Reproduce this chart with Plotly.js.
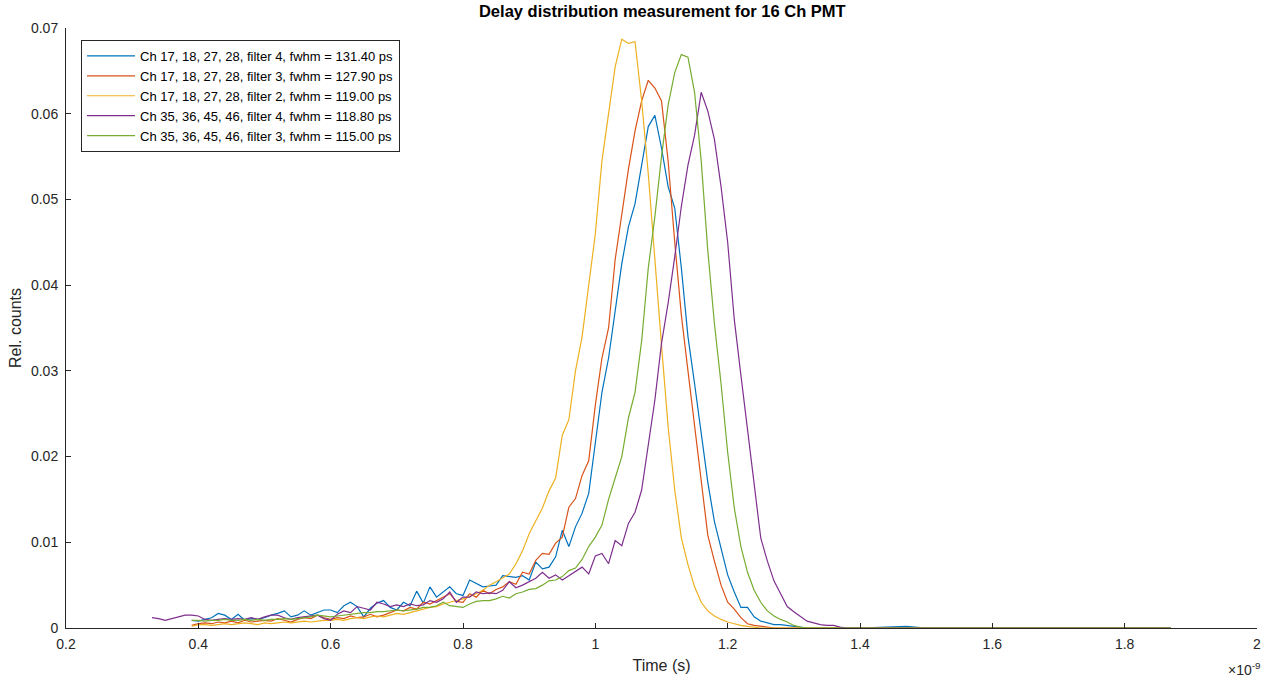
<!DOCTYPE html>
<html>
<head>
<meta charset="utf-8">
<script src="https://cdn.plot.ly/plotly-3.0.1.min.js"></script>
<style>html,body{margin:0;padding:0;background:#fff;}#chart{width:1264px;height:678px;}</style>
</head>
<body>
<div id="chart"></div>
<script>
// Time axis (units of 1e-9 s)
const t = [
 0.33,0.34,0.35,0.36,0.37,0.38,0.39,0.40,0.41,0.42,
 0.43,0.44,0.45,0.46,0.47,0.48,0.49,0.50,0.51,0.52,
 0.53,0.54,0.55,0.56,0.57,0.58,0.59,0.60,0.61,0.62,
 0.63,0.64,0.65,0.66,0.67,0.68,0.69,0.70,0.71,0.72,
 0.73,0.74,0.75,0.76,0.77,0.78,0.79,0.80,0.81,0.82,
 0.83,0.84,0.85,0.86,0.87,0.88,0.89,0.90,0.91,0.92,
 0.93,0.94,0.95,0.96,0.97,0.98,0.99,1.00,1.01,1.02,
 1.03,1.04,1.05,1.06,1.07,1.08,1.09,1.10,1.11,1.12,
 1.13,1.14,1.15,1.16,1.17,1.18,1.19,1.20,1.21,1.22,
 1.23,1.24,1.25,1.26,1.27,1.28,1.29,1.30,1.31,1.32,
 1.33,1.34,1.35,1.36,1.37,1.38,1.39,1.40,1.47,1.50,1.60,1.70,1.80,1.87
];

const ch17_f4 = [
 null,null,null,null,null,null,0.0009,0.0008,0.0010,0.0012,
 0.0017,0.0015,0.0010,0.0016,0.0009,0.0011,0.0010,0.0012,0.0015,0.0017,
 0.0020,0.0013,0.0015,0.0020,0.0015,0.0018,0.0021,0.0021,0.0018,0.0026,
 0.0030,0.0025,0.0013,0.0023,0.0029,0.0032,0.0024,0.0021,0.0030,0.0026,
 0.0043,0.0029,0.0048,0.0036,0.0042,0.0048,0.0040,0.0038,0.0056,0.0052,
 0.0048,0.0049,0.0050,0.0061,0.0060,0.0059,0.0061,0.0056,0.0077,0.0069,
 0.0071,0.0083,0.0114,0.0095,0.0118,0.0134,0.0157,0.0215,0.0275,0.0315,
 0.0370,0.0425,0.0468,0.0495,0.0540,0.0585,0.0598,0.0560,0.0515,0.0490,
 0.0420,0.0340,0.0285,0.0225,0.0170,0.0124,0.0093,0.0062,0.0042,0.0024,
 0.0024,0.0013,0.0008,0.0006,0.0004,0.0004,0.0003,0.0002,0.0001,0,
 0,0,0,0,0,0,0,0,0.0002,0,0,0,0,0
];

const ch17_f3 = [
 null,null,null,null,null,null,0.0003,0.0005,0.0006,0.0005,
 0.0007,0.0006,0.0008,0.0006,0.0009,0.0007,0.0008,0.0009,0.0008,0.0011,
 0.0009,0.0007,0.0010,0.0012,0.0011,0.0015,0.0012,0.0010,0.0012,0.0011,
 0.0014,0.0012,0.0013,0.0016,0.0013,0.0015,0.0018,0.0021,0.0020,0.0024,
 0.0022,0.0030,0.0028,0.0032,0.0036,0.0040,0.0031,0.0030,0.0040,0.0036,
 0.0044,0.0040,0.0045,0.0048,0.0054,0.0051,0.0065,0.0063,0.0079,0.0087,
 0.0086,0.0099,0.0106,0.0141,0.0151,0.0178,0.0195,0.0260,0.0315,0.0350,
 0.0430,0.0485,0.0535,0.0580,0.0615,0.0639,0.0630,0.0615,0.0545,0.0450,
 0.0365,0.0300,0.0235,0.0170,0.0108,0.0078,0.0050,0.0030,0.0022,0.0012,
 0.0005,0.0003,0.0002,0.0001,0,0,0,0,0,0,
 0,0,0,0,0,0,0,0,0,0,0,0,0,0
];

const ch17_f2 = [
 null,null,null,null,null,null,0.0002,0.0004,0.0004,0.0003,
 0.0004,0.0005,0.0004,0.0005,0.0006,0.0005,0.0004,0.0006,0.0005,0.0006,
 0.0007,0.0006,0.0007,0.0008,0.0007,0.0008,0.0009,0.0009,0.0010,0.0009,
 0.0011,0.0012,0.0011,0.0013,0.0014,0.0013,0.0015,0.0017,0.0016,0.0018,
 0.0020,0.0022,0.0024,0.0025,0.0028,0.0030,0.0032,0.0034,0.0037,0.0040,
 0.0044,0.0050,0.0054,0.0059,0.0063,0.0075,0.0090,0.0110,0.0125,0.0140,
 0.0160,0.0175,0.0225,0.0243,0.0300,0.0340,0.0400,0.0460,0.0545,0.0600,
 0.0655,0.0687,0.0682,0.0684,0.0615,0.0530,0.0426,0.0330,0.0235,0.0161,
 0.0105,0.0074,0.0048,0.0030,0.0020,0.0014,0.0010,0.0007,0.0005,0.0003,
 0.0002,0.0001,0,0,0,0,0,0,0,0,
 0,0,0,0,0,0,0,0,0,0,0,0,0,0
];

const ch35_f4 = [
 0.0012,0.0011,0.0009,0.0011,0.0013,0.0015,0.0015,0.0014,0.0010,0.0009,
 0.0010,0.0011,0.0010,0.0011,0.0010,0.0012,0.0010,0.0013,0.0015,0.0015,
 0.0012,0.0010,0.0012,0.0013,0.0014,0.0015,0.0011,0.0009,0.0016,0.0020,
 0.0018,0.0025,0.0023,0.0021,0.0030,0.0028,0.0025,0.0027,0.0025,0.0028,
 0.0026,0.0027,0.0032,0.0030,0.0034,0.0042,0.0030,0.0036,0.0036,0.0042,
 0.0040,0.0041,0.0040,0.0044,0.0054,0.0047,0.0050,0.0054,0.0058,0.0065,
 0.0058,0.0062,0.0056,0.0061,0.0066,0.0071,0.0063,0.0084,0.0087,0.0075,
 0.0102,0.0096,0.0122,0.0135,0.0161,0.0211,0.0266,0.0332,0.0379,0.0433,
 0.0492,0.0540,0.0575,0.0625,0.0603,0.0570,0.0515,0.0450,0.0360,0.0295,
 0.0231,0.0173,0.0105,0.0078,0.0055,0.0040,0.0025,0.0019,0.0013,0.0008,
 0.0006,0.0004,0.0003,0.0003,0.0001,0,0,0,0,0,0,0,0,0
];

const ch35_f3 = [
 null,null,null,null,null,null,0.0009,0.0009,0.0008,0.0009,
 0.0009,0.0010,0.0009,0.0009,0.0010,0.0009,0.0010,0.0009,0.0010,0.0010,
 0.0011,0.0010,0.0011,0.0012,0.0013,0.0015,0.0014,0.0013,0.0014,0.0015,
 0.0016,0.0017,0.0018,0.0018,0.0019,0.0019,0.0020,0.0021,0.0020,0.0021,
 0.0022,0.0024,0.0024,0.0026,0.0030,0.0026,0.0025,0.0024,0.0028,0.0031,
 0.0032,0.0032,0.0034,0.0037,0.0035,0.0040,0.0042,0.0045,0.0046,0.0050,
 0.0055,0.0056,0.0060,0.0067,0.0070,0.0080,0.0095,0.0106,0.0120,0.0150,
 0.0175,0.0200,0.0245,0.0275,0.0335,0.0420,0.0480,0.0550,0.0610,0.0648,
 0.0669,0.0666,0.0625,0.0545,0.0440,0.0355,0.0285,0.0205,0.0140,0.0095,
 0.0065,0.0044,0.0030,0.0020,0.0014,0.0010,0.0007,0.0003,0.0001,0,
 0,0,0,0,0,0,0,0,0,0,0,0,0,0
];

const seriesNames = [
 'Ch 17, 18, 27, 28, filter 4, fwhm = 131.40 ps',
 'Ch 17, 18, 27, 28, filter 3, fwhm = 127.90 ps',
 'Ch 17, 18, 27, 28, filter 2, fwhm = 119.00 ps',
 'Ch 35, 36, 45, 46, filter 4, fwhm = 118.80 ps',
 'Ch 35, 36, 45, 46, filter 3, fwhm = 115.00 ps'
];
const seriesValues = [ch17_f4, ch17_f3, ch17_f2, ch35_f4, ch35_f3];
const seriesColors = ['#0072BD', '#D95319', '#EDB120', '#7E2F8E', '#77AC30'];

const xTickVals = [0.2,0.4,0.6,0.8,1.0,1.2,1.4,1.6,1.8,2.0];
const xTickText = ['0.2','0.4','0.6','0.8','1','1.2','1.4','1.6','1.8','2'];
const yTickVals = [0,0.01,0.02,0.03,0.04,0.05,0.06,0.07];
const yTickText = ['0','0.01','0.02','0.03','0.04','0.05','0.06','0.07'];

const traces = seriesValues.map((v, i) => ({
  type: 'scatter', mode: 'lines', x: t, y: v, name: seriesNames[i],
  line: {color: seriesColors[i], width: 1.2}, connectgaps: false
}));

const FONT = 'Liberation Sans, Arial, Helvetica, sans-serif';
const AX = '#262626';
const layout = {
  width: 1264, height: 678,
  margin: {l: 66, r: 7, t: 28, b: 50},
  paper_bgcolor: '#fff', plot_bgcolor: '#fff',
  font: {family: FONT, color: AX, size: 14},
  showlegend: true,
  title: {text: 'Delay distribution measurement for 16 Ch PMT', x: 0.524, xanchor: 'center', y: 0.983, yanchor: 'middle', yref: 'container',
          font: {family: FONT, size: 16.5, color: '#000', weight: 'bold'}},
  xaxis: {range: [0.2, 2], tickmode: 'array', tickvals: xTickVals, ticktext: xTickText,
          ticks: 'inside', ticklen: 5, tickcolor: AX, tickwidth: 1,
          showline: true, linecolor: AX, linewidth: 1, showgrid: false, zeroline: false, mirror: false,
          tickfont: {size: 14, color: AX}, ticklabelstandoff: 3,
          title: {text: 'Time (s)', font: {size: 16, color: AX}, standoff: 9}},
  yaxis: {range: [0, 0.07], tickmode: 'array', tickvals: yTickVals, ticktext: yTickText,
          ticks: 'inside', ticklen: 5, tickcolor: AX, tickwidth: 1,
          showline: true, linecolor: AX, linewidth: 1, showgrid: false, zeroline: false, mirror: false,
          tickfont: {size: 14, color: AX}, ticklabelstandoff: 4,
          title: {text: 'Rel. counts', font: {size: 16, color: AX}, standoff: 5}},
  legend: {x: 0.0126, y: 0.98, xanchor: 'left', yanchor: 'top', bgcolor: '#fff',
           bordercolor: AX, borderwidth: 1, font: {size: 13, color: '#000'},
           tracegroupgap: 0, itemwidth: 48},
  annotations: [{text: '\u00d710<sup>-9</sup>', xref: 'paper', yref: 'paper', x: 1.004, y: -0.068,
                 xanchor: 'right', yanchor: 'middle', showarrow: false, font: {size: 14, color: AX}}]
};

Plotly.newPlot('chart', traces, layout, {displayModeBar: false, staticPlot: true});
</script>
</body>
</html>
